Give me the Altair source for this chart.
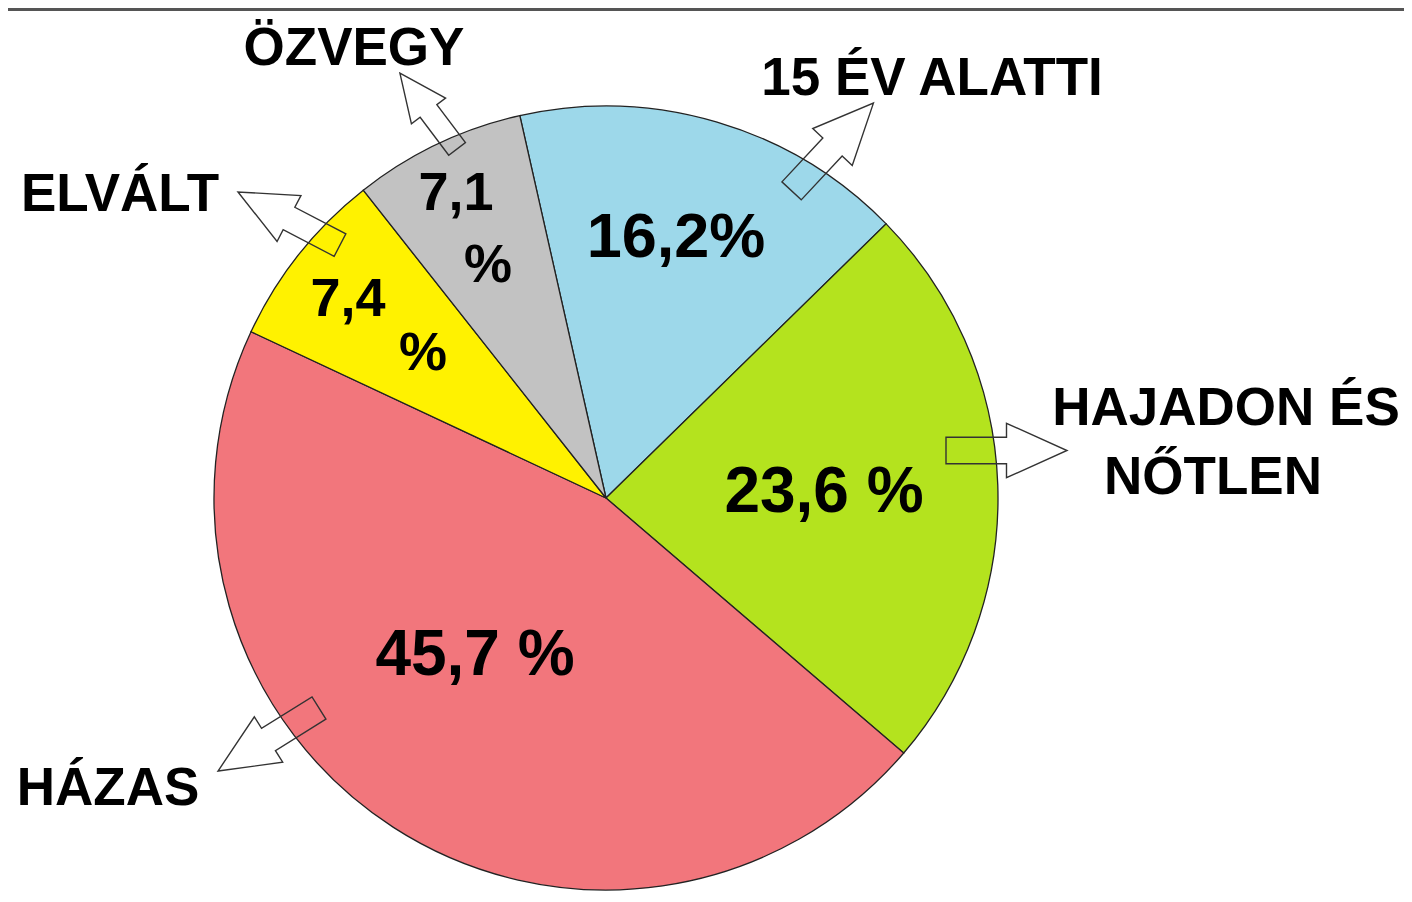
import math
import altair as alt
import pandas as pd

# ---- data ----
categories = ["15 ÉV ALATTI", "HAJADON ÉS NŐTLEN", "HÁZAS", "ELVÁLT", "ÖZVEGY"]
values = [16.2, 23.6, 45.7, 7.4, 7.1]
colors = ["#9DD8EA", "#B4E31E", "#F2767C", "#FFF200", "#C2C2C2"]

# ---- layout (chart-pixel coordinates, not data) ----
W, H = 1396, 884
CX, CY, R = 598, 490, 392
START = math.radians(-12.7)

value_text = [f"{v:.1f}".replace(".", ",") for v in values]

inner_rows = [
    (value_text[0] + "%", 668, 249, 63),
    (value_text[1] + " %", 816, 504, 64),
    (value_text[2] + " %", 467, 667, 64),
    (value_text[3], 340, 308, 54),
    ("%", 415, 362, 54),
    (value_text[4], 448, 202, 54),
    ("%", 480, 274, 54),
]

haj1, haj2 = "HAJADON ÉS", "NŐTLEN"
outer_rows = [
    (categories[4], 346, 57),
    (categories[0], 924, 87),
    (categories[3], 112, 203),
    (haj1, 1218, 417),
    (haj2, 1205, 486),
    (categories[2], 100, 797),
]

# arrows: centre x, centre y, direction angle (deg), length (px)
arrow_rows = [
    (420.5, 103, 233, 95),
    (824.5, 139, 313, 120),
    (281, 210.5, 207.5, 115),
    (998.5, 442.5, 0, 121),
    (260.5, 731.5, 148, 119),
]
ARROW = "M -1 -0.22 L 0 -0.22 L 0 -0.45 L 1 0 L 0 0.45 L 0 0.22 L -1 0.22 Z"

pie_df = pd.DataFrame({"cat": categories, "value": values, "idx": list(range(len(values)))})
inner_df = pd.DataFrame(inner_rows, columns=["text", "x", "y", "size"])
outer_df = pd.DataFrame(outer_rows, columns=["text", "x", "y"])
arrow_df = pd.DataFrame(arrow_rows, columns=["x", "y", "angle", "len"])
arrow_df["size"] = arrow_df["len"] ** 2

pie = alt.Chart(pie_df).mark_arc(radius=R, stroke="#222222", strokeWidth=1.3).encode(
    theta=alt.Theta("value:Q", stack=True,
                    scale=alt.Scale(domain=[0, 100], range=[START, START + 2 * math.pi])),
    color=alt.Color("cat:N", scale=alt.Scale(domain=categories, range=colors), legend=None),
    order=alt.Order("idx:Q"),
    x=alt.value(CX),
    y=alt.value(CY),
)

inner = alt.Chart(inner_df).mark_text(
    font="Liberation Sans", fontWeight="bold", align="center", baseline="alphabetic", color="black"
).encode(
    x=alt.X("x:Q", scale=None),
    y=alt.Y("y:Q", scale=None),
    text="text:N",
    size=alt.Size("size:Q", scale=None, legend=None),
)

outer = alt.Chart(outer_df).mark_text(
    font="Liberation Sans", fontWeight="bold", fontSize=53, align="center",
    baseline="alphabetic", color="black"
).encode(
    x=alt.X("x:Q", scale=None),
    y=alt.Y("y:Q", scale=None),
    text="text:N",
)

arrows = alt.Chart(arrow_df).mark_point(
    shape=ARROW, filled=False, stroke="#333333", strokeWidth=1.4, opacity=1
).encode(
    x=alt.X("x:Q", scale=None),
    y=alt.Y("y:Q", scale=None),
    angle=alt.Angle("angle:Q", scale=None),
    size=alt.Size("size:Q", scale=None, legend=None),
)

topline = alt.Chart(pd.DataFrame({"a": [0]})).mark_rule(color="#555555", strokeWidth=3).encode(
    x=alt.value(0), x2=alt.value(W), y=alt.value(1.5)
)

chart = alt.layer(pie, arrows, inner, outer, topline).properties(
    width=W, height=H, autosize=alt.AutoSizeParams(type="none"), padding=0, background="white"
).configure_view(stroke=None)

chart.save("out.html", embed_options={"renderer": "svg", "actions": False})
